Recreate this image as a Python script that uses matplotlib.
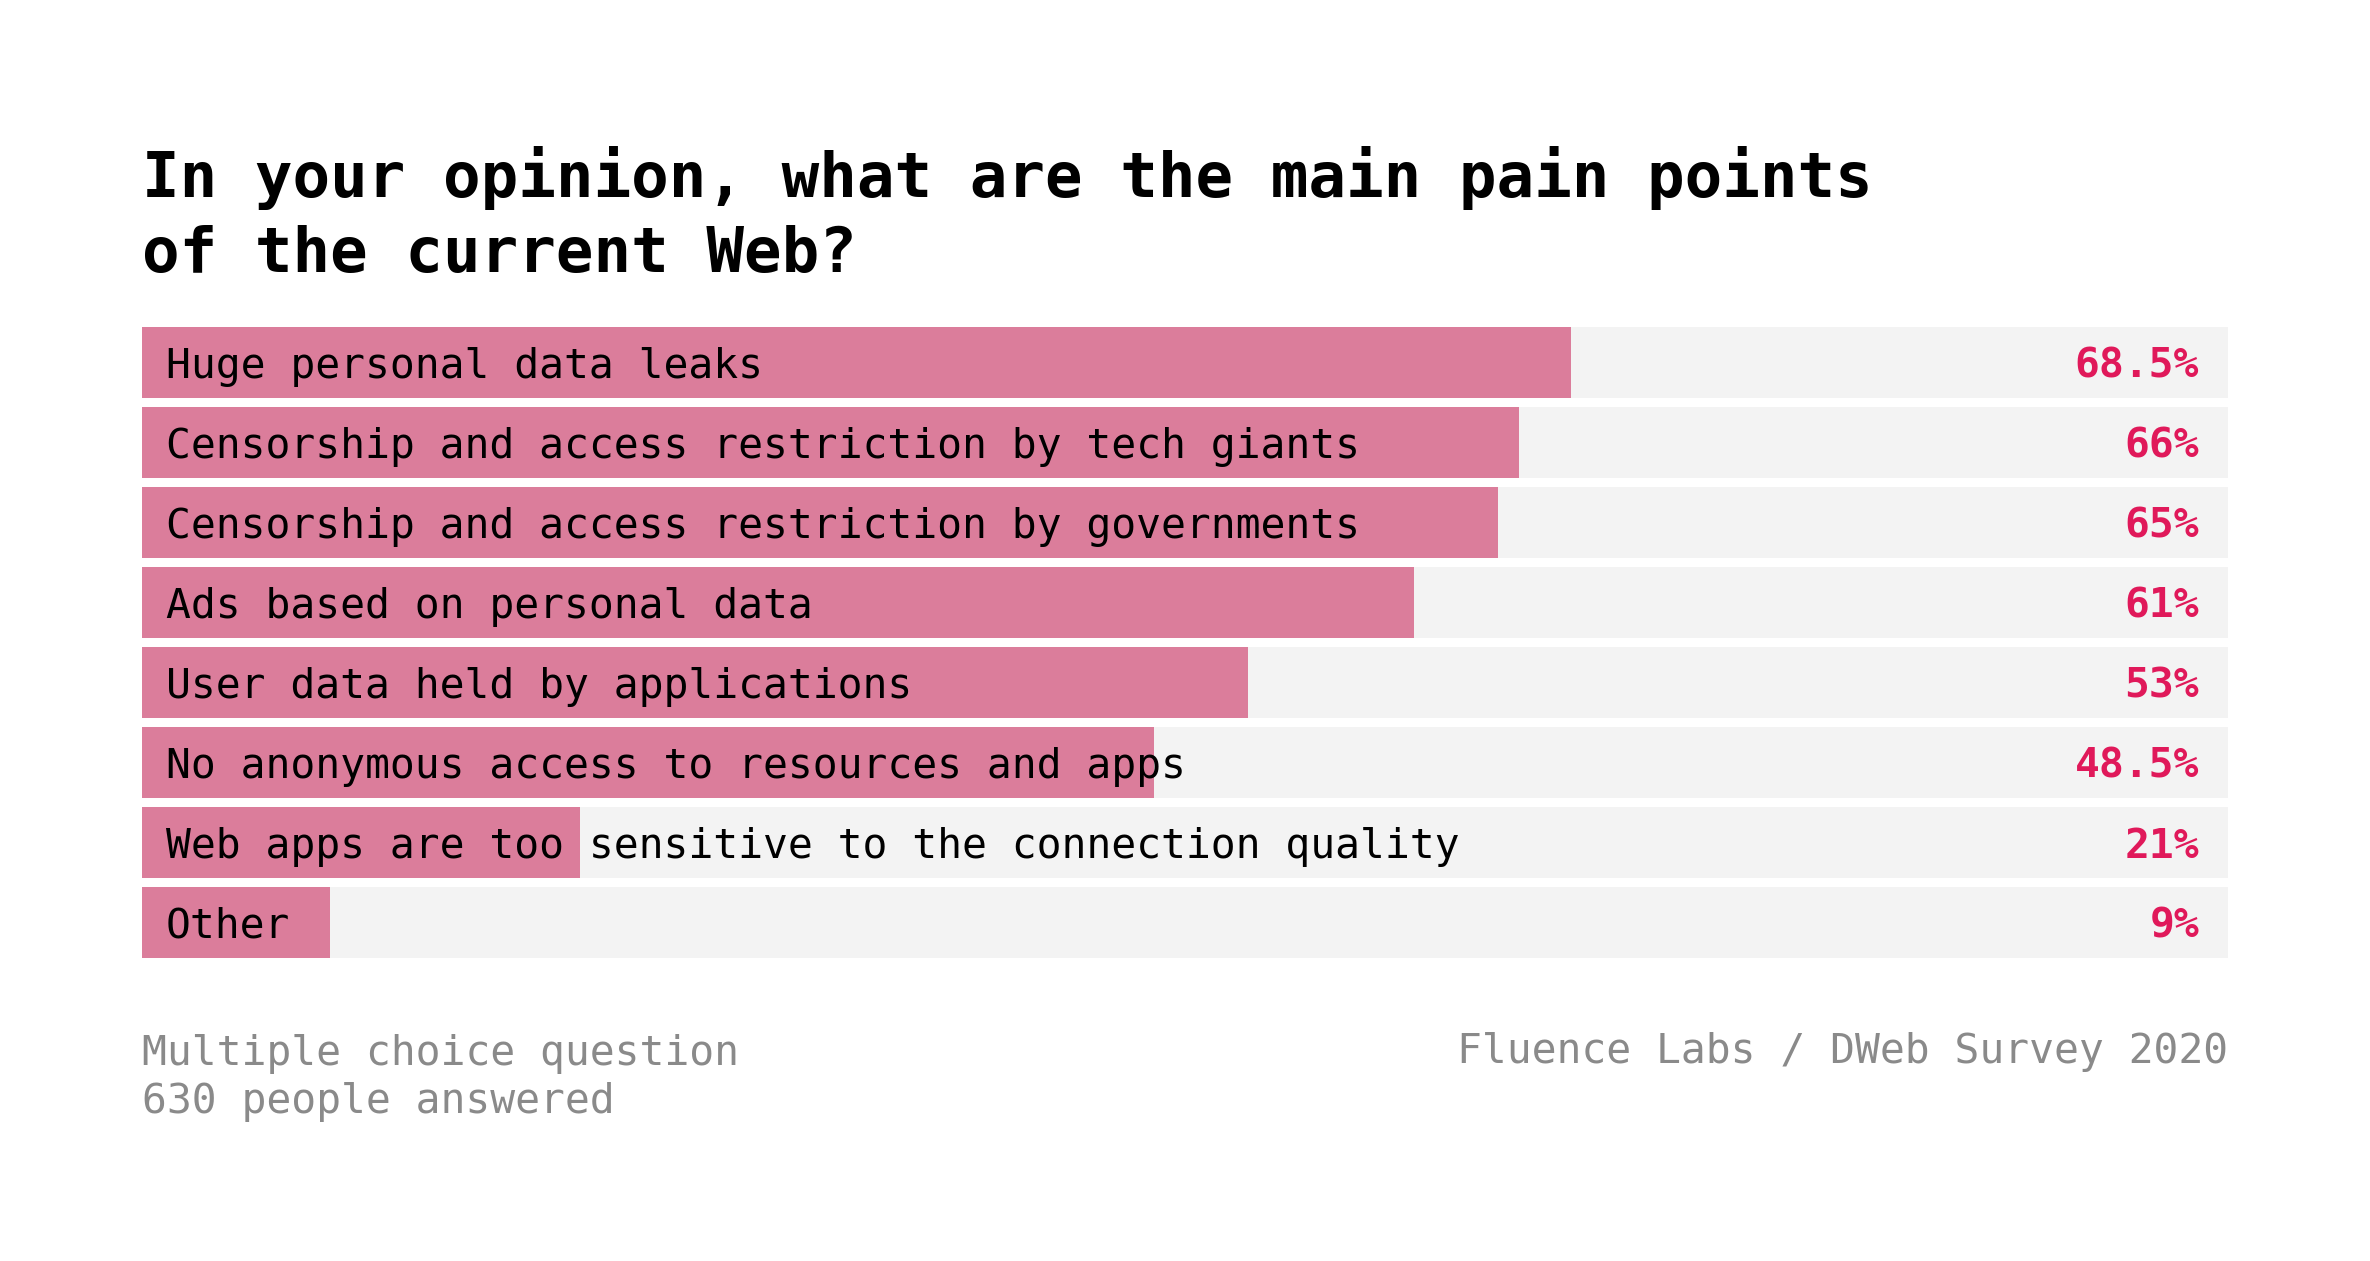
import numpy as np
import matplotlib.pyplot as plt

# survey answers, top to bottom
labels = ['Huge personal data leaks',
          'Censorship and access restriction by tech giants',
          'Censorship and access restriction by governments',
          'Ads based on personal data',
          'User data held by applications',
          'No anonymous access to resources and apps',
          'Web apps are too sensitive to the connection quality',
          'Other']
values = [68.5, 66, 65, 61, 53, 48.5, 21, 9]
value_text = ['68.5%', '66%', '65%', '61%', '53%', '48.5%', '21%', '9%']

title = 'In your opinion, what are the main pain points\nof the current Web?'
note = 'Multiple choice question\n630 people answered'
source = 'Fluence Labs / DWeb Survey 2020'

pink = '#db7d9b'
track = '#f3f3f3'
red = '#e0195a'
grey = '#8a8a8a'

plt.rcParams['font.family'] = ['DejaVu Sans Mono']

W, H = 2370, 1261
fig = plt.figure(figsize=(W / 100, H / 100), dpi=100)

# axes box in pixels: bars from x=142 to 2228, y=327 to 958
left, right, top, bottom = 142, 2228, 327, 958
ax = fig.add_axes([left / W, 1 - bottom / H, (right - left) / W, (bottom - top) / H])

y = np.arange(len(labels))
h = 71 / 80
ax.barh(y, [100] * len(y), height=h, color=track, zorder=1)
ax.barh(y, values, height=h, color=pink, zorder=2)
ax.set_xlim(0, 100)
ax.set_ylim(len(y) - 1 + h / 2, -h / 2)
ax.axis('off')

tr = ax.get_yaxis_transform()
for i in y:
    ax.text(24 / (right - left), i, labels[i], transform=tr, ha='left',
            va='center_baseline', fontsize=29.8, color='black', zorder=3)
    ax.text((2199 - left) / (right - left), i, value_text[i], transform=tr,
            ha='right', va='center_baseline', fontsize=29.8,
            fontweight='bold', color=red, zorder=3)

# multi-line text: va='baseline' sits on the last line
fig.text(left / W, 1 - 272 / H, title, ha='left', va='baseline',
         fontsize=45, fontweight='bold', color='black', linespacing=1.31)
fig.text(left / W, 1 - 1113 / H, note, ha='left', va='baseline',
         fontsize=29.8, color=grey, linespacing=1.27)
fig.text(right / W, 1 - 1063 / H, source, ha='right', va='baseline',
         fontsize=29.8, color=grey)

fig.savefig('out.png', dpi=100, facecolor='white')
